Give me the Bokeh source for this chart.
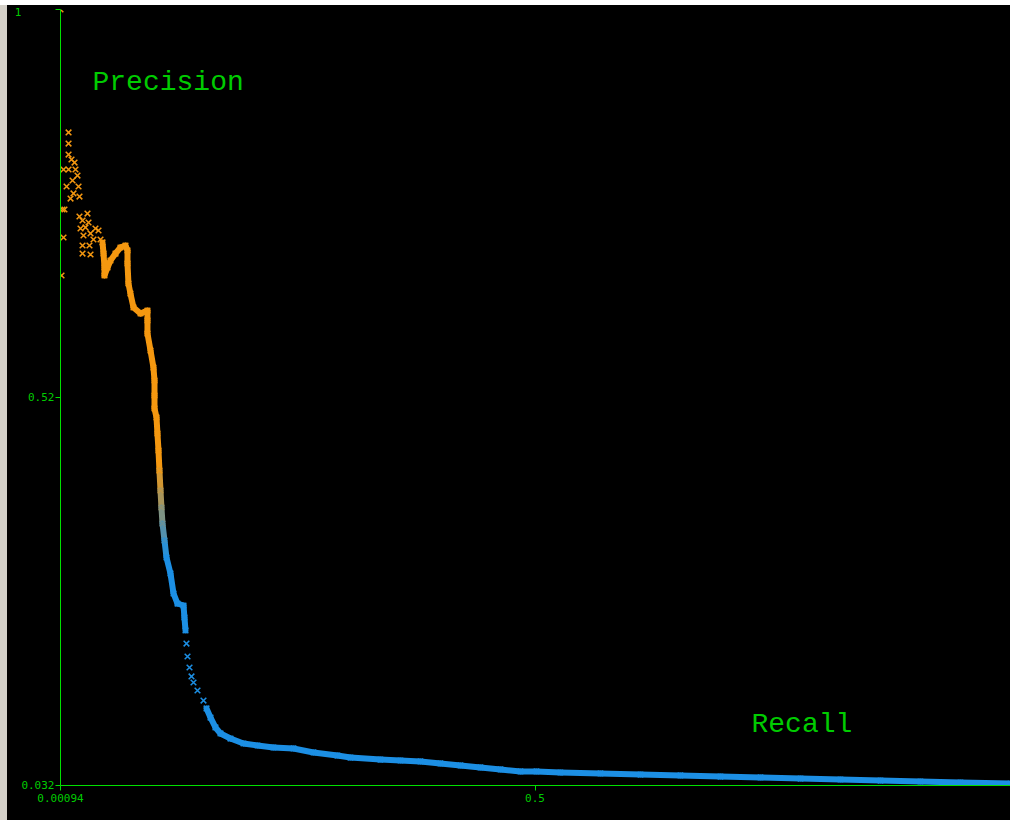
from bokeh.plotting import figure
from bokeh.models import Range1d, FixedTicker, Label, Div, Spacer, ColumnDataSource
from bokeh.layouts import row, column
from bokeh.transform import linear_cmap
from bokeh.embed import file_html
from bokeh.resources import INLINE

# Precision / recall pairs along the continuous part of the curve
curve_recall = [
    0.0451, 0.0462, 0.0472, 0.0472, 0.0504, 0.0535, 0.0588, 0.0640, 0.0693,
    0.0714, 0.0714, 0.0724, 0.0745, 0.0777, 0.0851, 0.0924, 0.0924, 0.0924,
    0.0956, 0.0987, 0.0998, 0.0998, 0.0998, 0.1019, 0.1029, 0.1040, 0.1050,
    0.1061, 0.1071, 0.1082, 0.1103, 0.1124, 0.1166, 0.1198, 0.1240, 0.1303,
    0.1313, 0.1324,
]
curve_precision = [
    0.7094, 0.6956, 0.6782, 0.6682, 0.6782, 0.6869, 0.6956, 0.7031, 0.7056,
    0.6994, 0.6832, 0.6582, 0.6457, 0.6283, 0.6208, 0.6245, 0.6121, 0.5958,
    0.5746, 0.5534, 0.5372, 0.5185, 0.5023, 0.4911, 0.4711, 0.4499, 0.4249,
    0.4000, 0.3788, 0.3588, 0.3376, 0.3164, 0.2965, 0.2715, 0.2590, 0.2565,
    0.2416, 0.2254,
]

# Long low-precision tail
tail_recall = [
    0.1545, 0.1587, 0.1639, 0.1692, 0.1797, 0.1934, 0.2081, 0.2249, 0.2460,
    0.2670, 0.2922, 0.3059, 0.3374, 0.3585, 0.3795, 0.4005, 0.4216, 0.4426,
    0.4637, 0.4847, 0.5015, 0.5267, 0.5688, 0.6109, 0.6529, 0.6950, 0.7371,
    0.7792, 0.8212, 0.8633, 0.9053, 0.9474, 1.0000,
]
tail_precision = [
    0.1281, 0.1168, 0.1044, 0.0969, 0.0906, 0.0844, 0.0819, 0.0794, 0.0782,
    0.0732, 0.0694, 0.0669, 0.0644, 0.0632, 0.0620, 0.0595, 0.0570, 0.0545,
    0.0520, 0.0495, 0.0495, 0.0482, 0.0470, 0.0457, 0.0445, 0.0432, 0.0420,
    0.0407, 0.0395, 0.0382, 0.0370, 0.0357, 0.0345,
]

# Isolated operating points (high thresholds and the sparse knee)
sparse_recall = [
    0.00094, 0.0094, 0.0094, 0.0094, 0.0125, 0.0157, 0.0041, 0.0094, 0.0167,
    0.0188, 0.0136, 0.0199, 0.0073, 0.0146, 0.0209, 0.0115, 0.0030, 0.0051,
    0.0041, 0.0020, 0.0209, 0.0293, 0.0241, 0.0304, 0.0220, 0.0272, 0.0251,
    0.0325, 0.0241, 0.0241, 0.0314, 0.0325, 0.0377, 0.0409, 0.0356, 0.0430,
    0.1334, 0.1345, 0.1366, 0.1387, 0.1408, 0.1450, 0.1513,
]
sparse_precision = [
    1.0000, 0.8466, 0.8328, 0.8191, 0.8129, 0.8091, 0.8004, 0.8004, 0.8004,
    0.7929, 0.7867, 0.7792, 0.7792, 0.7705, 0.7667, 0.7642, 0.7505, 0.7505,
    0.7156, 0.6682, 0.7418, 0.7455, 0.7368, 0.7343, 0.7268, 0.7281, 0.7181,
    0.7206, 0.7056, 0.6956, 0.7056, 0.6944, 0.7268, 0.7243, 0.7131, 0.7131,
    0.2091, 0.1929, 0.1792, 0.1680, 0.1605, 0.1505, 0.1380,
]

# Axis extents and the labels printed at the ends and middle of each axis
x_min, x_max = 0.00094, 1.0
y_min, y_max = 0.032, 1.0
x_mid, y_mid = 0.5, 0.516
x_tick_labels = {x_min: "0.00094", x_mid: "0.5"}
y_tick_labels = {y_min: "0.032", y_mid: "0.52", y_max: "1" + "\u00a0" * 5}

GREEN_LINE = "#00E000"
GREEN_TEXT = "#00CC00"

# orange -> blue ramp used to shade the points by precision
ORANGE = (245, 152, 16)
BLUE = (28, 143, 228)
steps = 32
palette = []
for i in range(steps):
    t = i / (steps - 1)
    c = tuple(round(BLUE[k] + (ORANGE[k] - BLUE[k]) * t) for k in range(3))
    palette.append("#%02x%02x%02x" % c)


def shade(field):
    return linear_cmap(field, palette, 0.32, 0.43)


p = figure(
    width=1003, height=815,
    x_range=Range1d(x_min, x_max), y_range=Range1d(y_min, y_max),
    output_backend="svg", toolbar_location=None,
    min_border_left=53, min_border_right=0, min_border_top=4, min_border_bottom=35,
    background_fill_color=None, border_fill_color="black",
    outline_line_color=None, margin=0,
    styles={"background-color": "black"},
)
p.xgrid.visible = False
p.ygrid.visible = False

p.xaxis.ticker = FixedTicker(ticks=list(x_tick_labels))
p.xaxis.major_label_overrides = x_tick_labels
p.yaxis.ticker = FixedTicker(ticks=list(y_tick_labels))
p.yaxis.major_label_overrides = y_tick_labels
for ax in (p.xaxis, p.yaxis):
    ax.axis_line_color = GREEN_LINE
    ax.axis_line_width = 1
    ax.major_tick_line_color = GREEN_LINE
    ax.major_tick_in = 0
    ax.major_tick_out = 5
    ax.minor_tick_line_color = None
    ax.major_label_text_color = GREEN_TEXT
    ax.major_label_text_font = "DejaVu Sans Mono"
    ax.major_label_text_font_size = "11px"
p.xaxis.major_label_standoff = 3
p.yaxis.major_label_standoff = 1


def connected(rs, ps):
    return ColumnDataSource(dict(
        x0=rs[:-1], y0=ps[:-1], x1=rs[1:], y1=ps[1:],
        pm=[(a + b) / 2 for a, b in zip(ps[:-1], ps[1:])],
    ))


# dense stretches: a thick band with a cross at every recorded point
for rs, ps in ((curve_recall, curve_precision), (tail_recall, tail_precision)):
    p.segment("x0", "y0", "x1", "y1", source=connected(rs, ps),
              line_color=shade("pm"), line_width=6, line_cap="round")
    p.scatter("r", "p", source=ColumnDataSource(dict(r=rs, p=ps)),
              marker="x", size=8, line_width=1.5, line_color=shade("p"))

# isolated points
p.scatter("r", "p", source=ColumnDataSource(dict(r=sparse_recall, p=sparse_precision)),
          marker="x", size=8, line_width=1.5, line_color=shade("p"))

# Axis names
big = dict(text_color=GREEN_TEXT, text_font="Liberation Mono", text_font_size="28px",
           text_align="left", text_baseline="alphabetic")
p.add_layout(Label(x=0.0346, y=0.909, text="Precision", **big))
p.add_layout(Label(x=0.7276, y=0.1081, text="Recall", **big))

side = Div(width=7, height=815, margin=0, styles={"background-color": "#d4d0c8"})
body = row(side, p, margin=0, styles={"background-color": "black"})
layout = column(Spacer(width=1010, height=5, margin=0), body, margin=0)

open("out.html", "w").write(file_html(layout, INLINE))
